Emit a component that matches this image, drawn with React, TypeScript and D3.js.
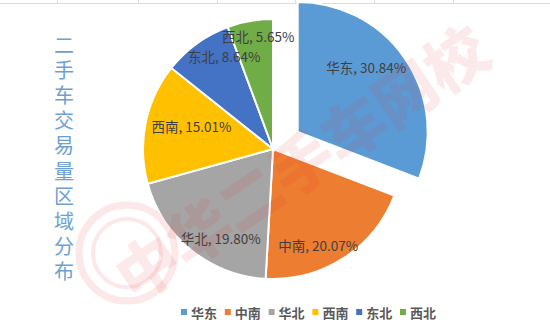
import React from "react";
import * as d3 from "d3";

const regions = ["华东", "中南", "华北", "西南", "东北", "西北"];
const shares = [30.84, 20.07, 19.8, 15.01, 8.64, 5.65];
const colors = ["#5B9BD5", "#ED7D31", "#A5A5A5", "#FFC000", "#4472C4", "#70AD47"];
const title = "二手车交易量区域分布";
const gridXs = [57, 138, 217, 295, 374, 453];

const W = 550;
const H = 332;
const cx = 273;
const cy = 149;
const R = 130;
const explode = 30;

export default function App() {
  const pie = d3.pie<number>().sort(null).value((d) => d)(shares);
  const arc = d3.arc<d3.PieArcDatum<number>>().innerRadius(0).outerRadius(R);
  const legendX = d3.scalePoint<string>().domain(regions).range([184, 403]);

  return (
    <svg width={W} height={H} style={{ position: "absolute", left: 0, top: 0, background: "#fff" }}>
      {/* spreadsheet grid remnants */}
      <line x1={0} x2={W} y1={3.5} y2={3.5} stroke="#dcdcdc" strokeWidth={1} />
      {gridXs.map((x) => (
        <line key={x} x1={x + 0.5} x2={x + 0.5} y1={0} y2={3.5} stroke="#dcdcdc" />
      ))}

      {/* pie */}
      <g>
        {pie.map((p, i) => {
          const mid = (p.startAngle + p.endAngle) / 2;
          const off = i === 0 ? explode : 0;
          const dx = Math.sin(mid) * off;
          const dy = -Math.cos(mid) * off;
          return (
            <path
              key={regions[i]}
              d={arc(p) || ""}
              transform={`translate(${cx + dx},${cy + dy})`}
              fill={colors[i]}
              stroke="#fff"
              strokeWidth={2}
            />
          );
        })}
        {pie.map((p, i) => {
          const mid = (p.startAngle + p.endAngle) / 2;
          const off = i === 0 ? explode : 0;
          const ox = cx + Math.sin(mid) * off;
          const oy = cy - Math.cos(mid) * off;
          const x = ox + Math.sin(mid) * R * 0.64;
          const y = oy - Math.cos(mid) * R * 0.88;
          return (
            <text
              key={"l" + regions[i]}
              x={x}
              y={y}
              textAnchor="middle"
              dominantBaseline="central"
              fontFamily="'Noto Sans CJK SC', 'Noto Sans', sans-serif"
              fontSize={13.5}
              fill="#404040"
            >
              {`${regions[i]}, ${shares[i].toFixed(2)}%`}
            </text>
          );
        })}
      </g>

      {/* watermark */}
      <g opacity={0.1} fill="none" stroke="#E8262A">
        <circle cx={127} cy={253} r={48} strokeWidth={7} />
        <circle cx={127} cy={253} r={34} strokeWidth={4} />
      </g>
      <text
        x={300}
        y={160}
        transform="rotate(-34 300 160)"
        textAnchor="middle"
        dominantBaseline="central"
        fontFamily="'Noto Sans CJK SC', sans-serif"
        fontWeight={900}
        fontSize={62}
        fill="#E8262A"
        opacity={0.09}
      >
        中华二手车网校
      </text>

      {/* vertical title */}
      <text
        x={64}
        y={35}
        style={{ writingMode: "vertical-rl" }}
        fontFamily="'Noto Sans CJK SC', sans-serif"
        fontSize={20}
        letterSpacing={5.2}
        fill="#6E9FD3"
      >
        {title}
      </text>

      {/* legend */}
      {regions.map((r, i) => {
        const x = legendX(r) as number;
        return (
          <g key={"lg" + r}>
            <rect x={x - 3} y={309} width={6} height={6} fill={colors[i]} />
            <text
              x={x + 7}
              y={312}
              dominantBaseline="central"
              fontFamily="'Noto Sans CJK SC', sans-serif"
              fontSize={13}
              fontWeight={700}
              fill="#595959"
            >
              {r}
            </text>
          </g>
        );
      })}
    </svg>
  );
}
